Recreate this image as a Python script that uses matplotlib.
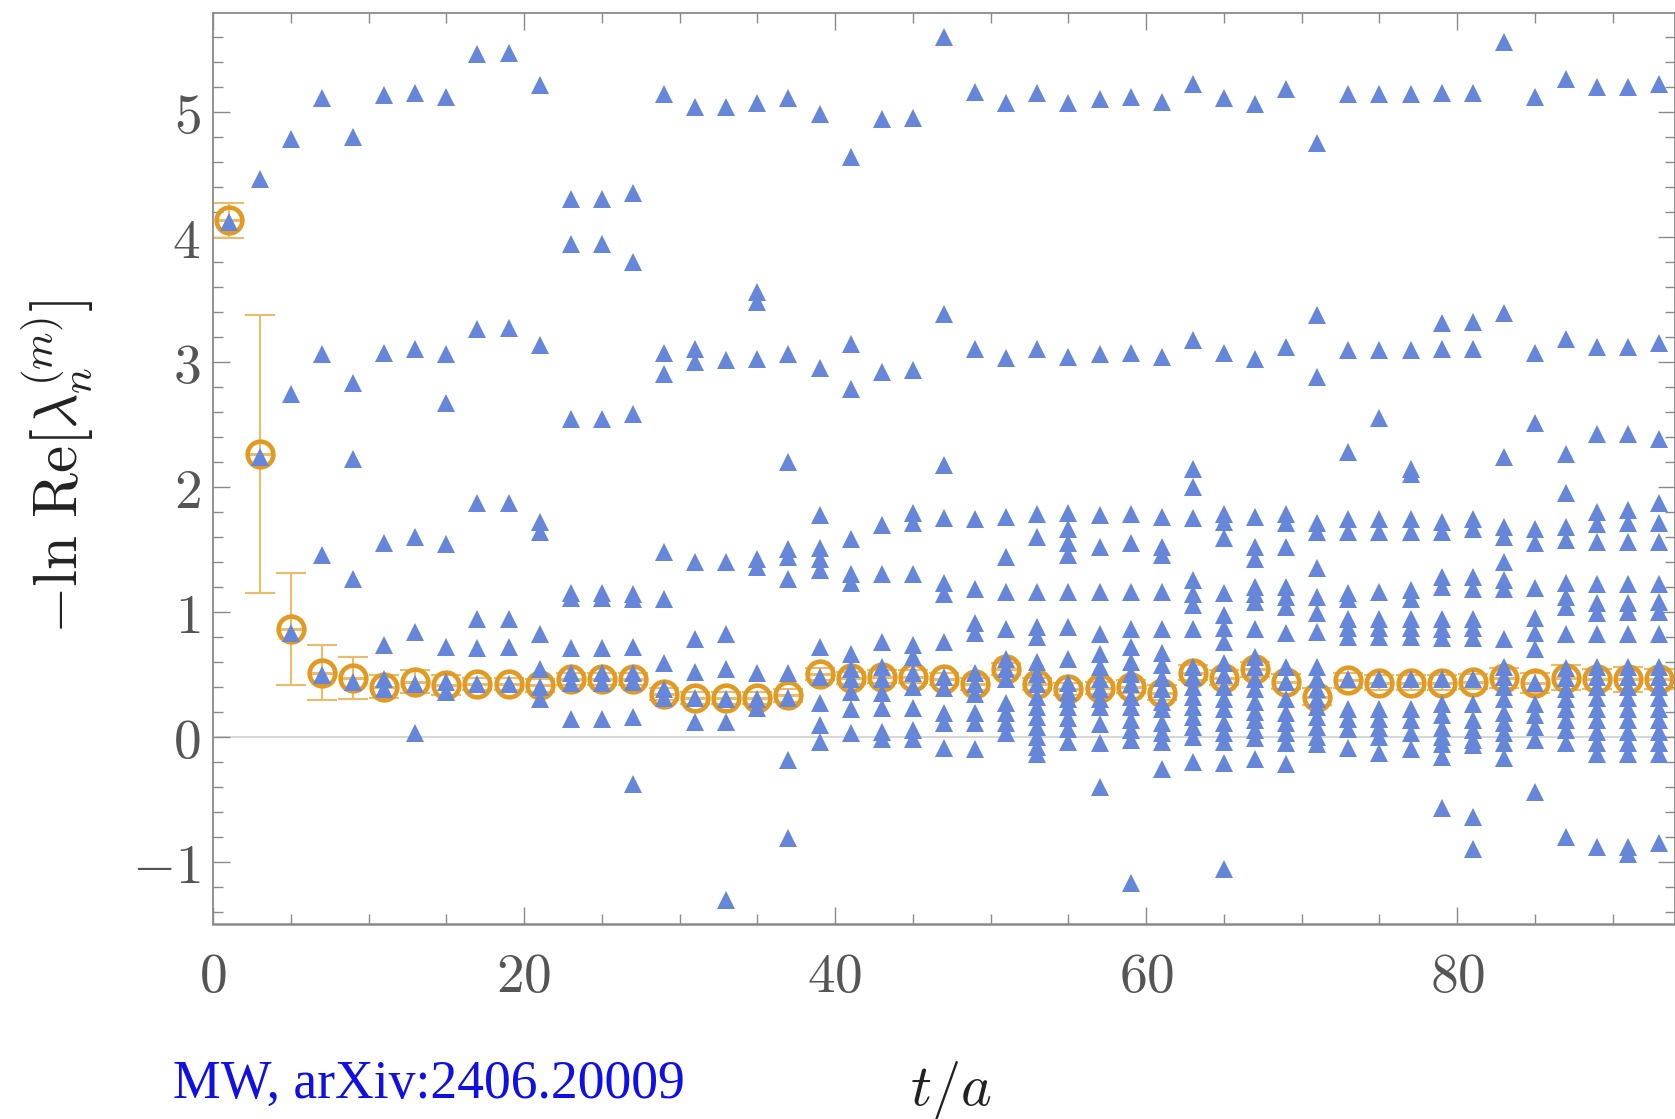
import numpy as np
import matplotlib
matplotlib.use('Agg')
import matplotlib.pyplot as plt
from matplotlib.ticker import MultipleLocator, FuncFormatter

plt.rcParams['mathtext.fontset'] = 'cm'

# orange circles: effective-mass estimate with error bars
t_circ = list(range(1, 94, 2))
c_y = [4.13, 2.26, 0.86, 0.51, 0.47, 0.40, 0.44, 0.41, 0.42, 0.42, 0.41, 0.46, 0.46,
       0.46, 0.34, 0.31, 0.31, 0.31, 0.33, 0.50, 0.47, 0.48, 0.48, 0.46, 0.42, 0.54,
       0.42, 0.38, 0.39, 0.40, 0.35, 0.51, 0.47, 0.54, 0.44, 0.32, 0.45, 0.43, 0.43,
       0.43, 0.44, 0.47, 0.43, 0.47, 0.46, 0.46, 0.46]
c_err = [0.14, 1.11, 0.45, 0.22, 0.17, 0.09, 0.09, 0.08, 0.05, 0.05, 0.05, 0.05, 0.05,
         0.05, 0.05, 0.05, 0.05, 0.05, 0.05, 0.05, 0.05, 0.05, 0.05, 0.05, 0.05, 0.05,
         0.05, 0.05, 0.05, 0.05, 0.06, 0.06, 0.06, 0.06, 0.06, 0.07, 0.06, 0.06, 0.06,
         0.06, 0.06, 0.08, 0.08, 0.10, 0.08, 0.10, 0.08]

# blue triangles: -ln Re[lambda_n] for each t
e1 = [4.12]
e3 = [4.46, 2.24]
e5 = [4.78, 2.74, 0.83]
e7 = [5.11, 3.06, 1.45, 0.49]
e9 = [4.80, 2.83, 2.22, 1.26, 0.44]
e11 = [5.13, 3.07, 1.55, 0.73, 0.46, 0.38]
e13 = [5.15, 3.10, 1.60, 0.84, 0.42, 0.03]
e15 = [5.12, 3.06, 2.67, 1.54, 0.72, 0.44, 0.36]
e17 = [5.46, 3.26, 1.87, 0.94, 0.71, 0.42]
e19 = [5.47, 3.27, 1.87, 0.94, 0.72, 0.42]
e21 = [5.21, 3.13, 1.72, 1.64, 0.82, 0.54, 0.40, 0.30]
e23 = [4.30, 3.94, 2.54, 1.15, 1.11, 0.71, 0.51, 0.43, 0.14]
e25 = [4.30, 3.94, 2.54, 1.15, 1.11, 0.71, 0.51, 0.43, 0.14]
e27 = [4.35, 3.80, 2.58, 1.14, 1.10, 0.72, 0.51, 0.44, 0.16, -0.38]
e29 = [5.14, 3.07, 2.90, 1.48, 1.10, 0.59, 0.38, 0.31]
e31 = [5.04, 3.10, 3.00, 1.40, 0.78, 0.52, 0.31, 0.12]
e33 = [5.04, 3.01, 1.40, 0.82, 0.54, 0.30, 0.12, -1.31]
e35 = [5.07, 3.56, 3.48, 3.02, 1.42, 1.36, 0.51, 0.30, 0.23]
e37 = [5.11, 3.06, 2.20, 1.50, 1.44, 1.26, 0.51, 0.31, -0.19, -0.81]
e39 = [4.98, 2.95, 1.77, 1.51, 1.42, 1.33, 0.72, 0.48, 0.27, 0.09, -0.04]
e41 = [4.64, 3.14, 2.78, 1.58, 1.30, 1.23, 0.66, 0.54, 0.46, 0.36, 0.22, 0.03]
e43 = [4.94, 2.92, 1.69, 1.30, 0.76, 0.56, 0.46, 0.35, 0.23, 0.04, -0.02]
e45 = [4.95, 2.93, 1.79, 1.71, 1.30, 0.73, 0.64, 0.51, 0.40, 0.23, 0.05, -0.02]
e47 = [5.60, 3.38, 2.17, 1.75, 1.23, 1.14, 0.76, 0.48, 0.39, 0.19, 0.11, -0.09]
e49 = [5.16, 3.10, 1.74, 1.18, 0.91, 0.83, 0.51, 0.42, 0.34, 0.19, 0.11, -0.10]
e51 = [5.07, 3.03, 1.76, 1.44, 1.16, 0.86, 0.62, 0.54, 0.46, 0.27, 0.19, 0.11, 0.03]
e53 = [5.15, 3.10, 1.78, 1.60, 1.16, 0.88, 0.80, 0.60, 0.50, 0.42, 0.32, 0.24, 0.16,
       0.08, 0.00, -0.08, -0.14]
e55 = [5.07, 3.04, 1.79, 1.66, 1.55, 1.45, 1.16, 0.88, 0.62, 0.43, 0.36, 0.30, 0.24,
       0.15, 0.06, -0.04]
e57 = [5.10, 3.06, 1.77, 1.52, 1.16, 0.82, 0.66, 0.56, 0.46, 0.38, 0.30, 0.24, 0.10,
       -0.05, -0.40]
e59 = [5.12, 3.07, 1.78, 1.55, 1.16, 0.86, 0.72, 0.60, 0.50, 0.42, 0.32, 0.24, 0.13,
       0.05, -0.03, -1.17]
e61 = [5.08, 3.04, 1.76, 1.52, 1.45, 1.16, 0.86, 0.67, 0.57, 0.47, 0.38, 0.28, 0.22,
       0.11, 0.03, -0.04, -0.26]
e63 = [5.22, 3.17, 2.14, 2.00, 1.75, 1.25, 1.14, 1.05, 0.86, 0.56, 0.48, 0.40, 0.32,
       0.24, 0.16, 0.08, 0.00, -0.20]
e65 = [5.11, 3.07, 1.78, 1.72, 1.59, 1.15, 0.97, 0.87, 0.76, 0.59, 0.49, 0.40, 0.30,
       0.22, 0.11, 0.03, -0.04, -0.21, -1.06]
e67 = [5.06, 3.02, 1.76, 1.52, 1.42, 1.20, 1.14, 1.08, 0.86, 0.64, 0.56, 0.46, 0.38,
       0.28, 0.20, 0.13, 0.05, -0.01, -0.18]
e69 = [5.18, 3.12, 1.78, 1.71, 1.52, 1.20, 1.12, 1.04, 0.83, 0.56, 0.44, 0.30, 0.19,
       0.11, 0.03, -0.05, -0.22]
e71 = [4.75, 3.37, 2.88, 1.71, 1.64, 1.35, 1.12, 0.99, 0.84, 0.56, 0.46, 0.38, 0.30,
       0.24, 0.16, 0.08, 0.00, -0.06]
e73 = [5.14, 3.09, 2.28, 1.74, 1.64, 1.15, 1.10, 0.94, 0.87, 0.80, 0.46, 0.22, 0.14,
       0.06, -0.09]
e75 = [5.14, 3.09, 2.55, 1.74, 1.64, 1.16, 0.94, 0.87, 0.80, 0.46, 0.22, 0.14, 0.07,
       0.00, -0.13]
e77 = [5.14, 3.09, 2.14, 2.10, 1.74, 1.64, 1.17, 1.10, 0.94, 0.87, 0.80, 0.46, 0.22,
       0.13, 0.03, -0.10]
e79 = [5.15, 3.31, 3.10, 1.72, 1.64, 1.28, 1.20, 0.94, 0.86, 0.79, 0.46, 0.26, 0.17,
       0.07, 0.00, -0.06, -0.16, -0.57]
e81 = [5.15, 3.32, 3.10, 1.74, 1.66, 1.28, 1.18, 0.94, 0.87, 0.79, 0.46, 0.26, 0.13,
       0.05, -0.03, -0.07, -0.64, -0.90]
e83 = [5.56, 3.39, 2.24, 1.68, 1.60, 1.40, 1.25, 1.18, 0.78, 0.56, 0.48, 0.40, 0.30,
       0.19, 0.11, 0.03, -0.05, -0.17]
e85 = [5.12, 3.07, 2.51, 1.66, 1.55, 1.19, 0.95, 0.83, 0.70, 0.43, 0.26, 0.17, 0.08,
       -0.03, -0.44]
e87 = [5.26, 3.18, 2.26, 1.95, 1.68, 1.57, 1.23, 1.12, 1.04, 0.82, 0.55, 0.47, 0.38,
       0.30, 0.22, 0.13, 0.05, -0.05, -0.80]
e89 = [5.20, 3.12, 2.42, 1.80, 1.70, 1.56, 1.22, 1.07, 0.99, 0.82, 0.56, 0.48, 0.40,
       0.31, 0.22, 0.13, 0.04, -0.05, -0.14, -0.88]
e91 = [5.20, 3.12, 2.42, 1.81, 1.71, 1.56, 1.22, 1.07, 1.00, 0.82, 0.56, 0.48, 0.40,
       0.31, 0.22, 0.13, 0.04, -0.05, -0.14, -0.88, -0.94]
e93 = [5.22, 3.15, 2.38, 1.87, 1.71, 1.56, 1.22, 1.08, 1.00, 0.82, 0.56, 0.48, 0.40,
       0.31, 0.22, 0.13, 0.04, -0.05, -0.14, -0.85]

columns = [e1, e3, e5, e7, e9, e11, e13, e15, e17, e19, e21, e23, e25, e27, e29, e31,
           e33, e35, e37, e39, e41, e43, e45, e47, e49, e51, e53, e55, e57, e59, e61,
           e63, e65, e67, e69, e71, e73, e75, e77, e79, e81, e83, e85, e87, e89, e91, e93]

x_ticks = [0, 20, 40, 60, 80]
y_ticks = [-1, 0, 1, 2, 3, 4, 5]

BLUE = '#6586d9'
ORANGE = '#e39a22'
ORANGE_LIGHT = '#ecbb6a'
FRAME = '#8a8a8a'
LABEL = '#555555'

fig = plt.figure(figsize=(16.75, 11.19), dpi=100)
ax = fig.add_axes([213 / 1675, 1 - 924 / 1119, 1 - 213 / 1675, (924 - 13) / 1119])

ax.axhline(0, color='#d0d0d0', lw=1.2, zorder=0)

# error bars and open circles
ax.errorbar(t_circ, c_y, yerr=c_err, fmt='none', ecolor=ORANGE_LIGHT, elinewidth=1.5,
            capsize=10.5, capthick=1.5, zorder=2)
ax.plot(t_circ, c_y, ls='none', marker='_', ms=19, mew=2.2, color=ORANGE_LIGHT, zorder=2)
ax.plot(t_circ, c_y, ls='none', marker='o', ms=18.5, mfc='none', mec=ORANGE, mew=3.3,
        zorder=2.5)

# triangles
tx = []
ty = []
for t, col in zip(t_circ, columns):
    tx += [t] * len(col)
    ty += col
ax.plot(tx, ty, ls='none', marker='^', ms=13.2, color=BLUE, mew=0, zorder=3)

ax.set_xlim(0, 94)
ax.set_ylim(-1.5, 5.79)

ax.xaxis.set_minor_locator(MultipleLocator(5))
ax.yaxis.set_minor_locator(MultipleLocator(0.2))
ax.set_xticks(x_ticks)
ax.set_yticks(y_ticks)
fmt = FuncFormatter(lambda v, p: r'$%d$' % v)
ax.xaxis.set_major_formatter(fmt)
ax.yaxis.set_major_formatter(fmt)

ax.tick_params(which='both', direction='in', top=True, right=True, color=FRAME, width=1.0)
ax.tick_params(which='major', length=12)
ax.tick_params(which='minor', length=7)
ax.tick_params(axis='x', which='major', labelsize=40, labelcolor=LABEL, pad=19)
ax.tick_params(axis='y', which='major', labelsize=40, labelcolor=LABEL, pad=9)
for s in ax.spines.values():
    s.set_color(FRAME)
    s.set_linewidth(1.3)
ax.spines['bottom'].set_linewidth(1.8)

fig.text(57 / 1675, 1 - 467 / 1119, r'$-\ln\,\mathrm{Re}[\lambda_n^{(m)}]$',
         rotation=90, ha='center', va='center', fontsize=44, color='#222222')
fig.text(951 / 1675, 1 - 1090 / 1119, r'$t/a$', ha='center', va='center',
         fontsize=42, color='#222222')
fig.text(173 / 1675, 1 - 1098 / 1119, 'MW, arXiv:2406.20009', ha='left', va='baseline',
         fontsize=38.6, color='#1010e6', family='Liberation Serif')

fig.savefig('out.png', dpi=100)
